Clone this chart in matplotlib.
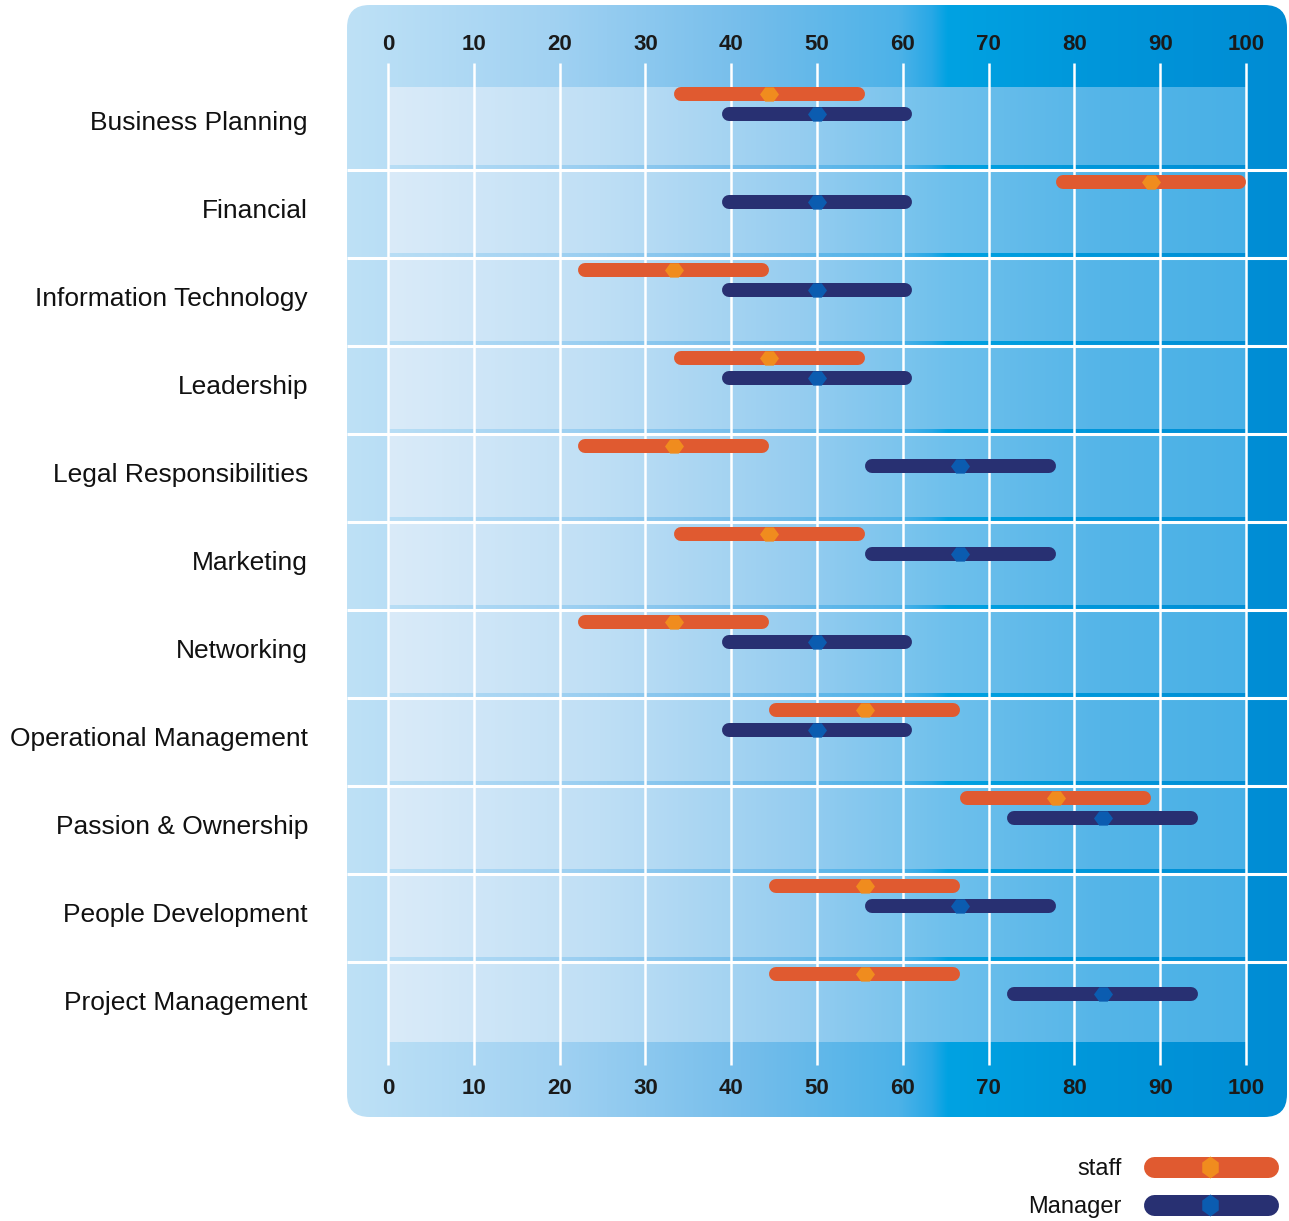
import matplotlib.pyplot as plt
import numpy as np
from matplotlib.colors import to_rgb
from matplotlib.lines import Line2D
from matplotlib.patches import FancyBboxPatch
from matplotlib.transforms import blended_transform_factory

plt.rcParams["font.family"] = ["Liberation Sans", "DejaVu Sans"]

categories = [
    "Business Planning",
    "Financial",
    "Information Technology",
    "Leadership",
    "Legal Responsibilities",
    "Marketing",
    "Networking",
    "Operational Management",
    "Passion & Ownership",
    "People Development",
    "Project Management",
]
staff_low = [33.3, 77.8, 22.2, 33.3, 22.2, 33.3, 22.2, 44.4, 66.7, 44.4, 44.4]
staff_mid = [44.4, 88.9, 33.3, 44.4, 33.3, 44.4, 33.3, 55.6, 77.8, 55.6, 55.6]
staff_high = [55.6, 100.0, 44.4, 55.6, 44.4, 55.6, 44.4, 66.7, 88.9, 66.7, 66.7]
manager_low = [38.9, 38.9, 38.9, 38.9, 55.6, 55.6, 38.9, 38.9, 72.2, 55.6, 72.2]
manager_mid = [50.0, 50.0, 50.0, 50.0, 66.7, 66.7, 50.0, 50.0, 83.3, 66.7, 83.3]
manager_high = [61.1, 61.1, 61.1, 61.1, 77.8, 77.8, 61.1, 61.1, 94.4, 77.8, 94.4]
tick_values = list(range(0, 101, 10))

STAFF_BAR = "#e05a30"
STAFF_MARK = "#f08c1e"
MANAGER_BAR = "#283072"
MANAGER_MARK = "#0b5cb0"

W, H = 1289, 1221
fig = plt.figure(figsize=(W / 100, H / 100), dpi=100)
fig.patch.set_facecolor("white")

# panel in pixels: x 347..1287, y 5..1117 ; value 0 at x=388, 100 at x=1246
px_per_unit = (1246 - 388) / 100
x_left = -(388 - 347) / px_per_unit
x_right = 100 + (1287 - 1246) / px_per_unit
row_px = 88.0
y_top = (5 - 126) / row_px
y_bottom = (1117 - 126) / row_px

ax = fig.add_axes([347 / W, 1 - 1117 / H, (1287 - 347) / W, (1117 - 5) / H])
ax.set_xlim(x_left, x_right)
ax.set_ylim(y_bottom, y_top)
ax.axis("off")


def gradient_strip(stops, x0, x1, n=600):
    """Horizontal colour ramp from (pixel x, hex colour) stops."""
    xs = np.linspace(x0, x1, n)
    px = [s[0] for s in stops]
    rgb = np.array([to_rgb(s[1]) for s in stops])
    img = np.stack([np.interp(xs, px, rgb[:, k]) for k in range(3)], axis=-1)
    return img[np.newaxis, :, :]


base_stops = [
    (347, "#bee1f6"),
    (550, "#a2d2f2"),
    (750, "#74bdeb"),
    (900, "#4cb2e8"),
    (932, "#28a8e6"),
    (948, "#00a2e2"),
    (1100, "#0096da"),
    (1287, "#008cd4"),
]
row_stops = [
    (388, "#daebf9"),
    (600, "#bfdff5"),
    (800, "#96cdf0"),
    (950, "#6ec0ec"),
    (1100, "#55b5e8"),
    (1246, "#48b0e6"),
]

panel = FancyBboxPatch(
    (0, 0), 1, 1,
    boxstyle="round,pad=0,rounding_size=0.024",
    mutation_aspect=(1287 - 347) / (1117 - 5),
    transform=ax.transAxes,
    facecolor="none",
    edgecolor="none",
)
ax.add_patch(panel)
base = ax.imshow(
    gradient_strip(base_stops, 347, 1287),
    extent=(x_left, x_right, y_bottom, y_top),
    aspect="auto",
    interpolation="bilinear",
    zorder=0,
)
base.set_clip_path(panel)

# lighter band for each row, leaving a thin darker strip above each divider
row_img = gradient_strip(row_stops, 388, 1246)
n_rows = len(categories)
for i in range(n_rows):
    top = (87 - 126) / row_px if i == 0 else i - 0.5 + 1.5 / row_px
    bottom = (1042 - 126) / row_px if i == n_rows - 1 else i + 0.5 - 5 / row_px
    ax.imshow(row_img, extent=(0, 100, bottom, top), aspect="auto",
              interpolation="bilinear", zorder=1)

# white grid
for v in tick_values:
    ax.plot([v, v], [(63 - 126) / row_px, (1065 - 126) / row_px],
            color="white", lw=1.8, zorder=2, solid_capstyle="butt")
for i in range(n_rows - 1):
    ax.plot([x_left, x_right], [i + 0.5, i + 0.5], color="white", lw=2.2,
            zorder=2, solid_capstyle="butt")

for v in tick_values:
    for y_px in (45, 1088):
        ax.text(v, (y_px - 126) / row_px, str(v), ha="center", va="center",
                fontsize=16, fontweight="bold", color="#1a1a1a", zorder=5)

# range bars with a hexagonal midpoint marker
hex_marker = [(-1, 0), (-0.45, 0.75), (0.45, 0.75), (1, 0), (0.45, -0.75), (-0.45, -0.75), (-1, 0)]
bar_px = 14
bar_lw = bar_px * 72 / 100
cap = bar_px / 2 / px_per_unit
staff_off = (94 - 126) / row_px
manager_off = (114 - 126) / row_px

for i in range(n_rows):
    for lo, mid, hi, off, bar_c, mark_c in (
        (staff_low[i], staff_mid[i], staff_high[i], staff_off, STAFF_BAR, STAFF_MARK),
        (manager_low[i], manager_mid[i], manager_high[i], manager_off, MANAGER_BAR, MANAGER_MARK),
    ):
        ax.plot([lo + cap, hi - cap], [i + off, i + off], color=bar_c, lw=bar_lw,
                solid_capstyle="round", zorder=3)
        ax.plot([mid], [i + off], marker=hex_marker, markersize=19 * 0.72,
                color=mark_c, markeredgewidth=0, linestyle="None", zorder=4)

label_tf = blended_transform_factory(fig.transFigure, ax.transData)
for i, name in enumerate(categories):
    ax.text(308 / W, i - 3 / row_px, name, transform=label_tf, ha="right",
            va="center", fontsize=19, color="#111111", clip_on=False)

# legend
vert_hex = [(0, -1), (0.75, -0.45), (0.75, 0.45), (0, 1), (-0.75, 0.45), (-0.75, -0.45), (0, -1)]
leg_px = 21
for y_px, text, bar_c, mark_c in (
    (1167, "staff", STAFF_BAR, STAFF_MARK),
    (1205, "Manager", MANAGER_BAR, MANAGER_MARK),
):
    yf = 1 - y_px / H
    fig.add_artist(Line2D([(1143 + leg_px / 2) / W, (1278 - leg_px / 2) / W], [yf, yf],
                          transform=fig.transFigure, color=bar_c, lw=leg_px * 0.72,
                          solid_capstyle="round"))
    fig.add_artist(Line2D([1210 / W], [yf], transform=fig.transFigure, marker=vert_hex,
                          markersize=22 * 0.72, color=mark_c, markeredgewidth=0,
                          linestyle="None"))
    fig.text(1122 / W, yf - 2 / H, text, ha="right", va="center", fontsize=17, color="#111111")

fig.savefig("out.png", dpi=100, facecolor="white")
